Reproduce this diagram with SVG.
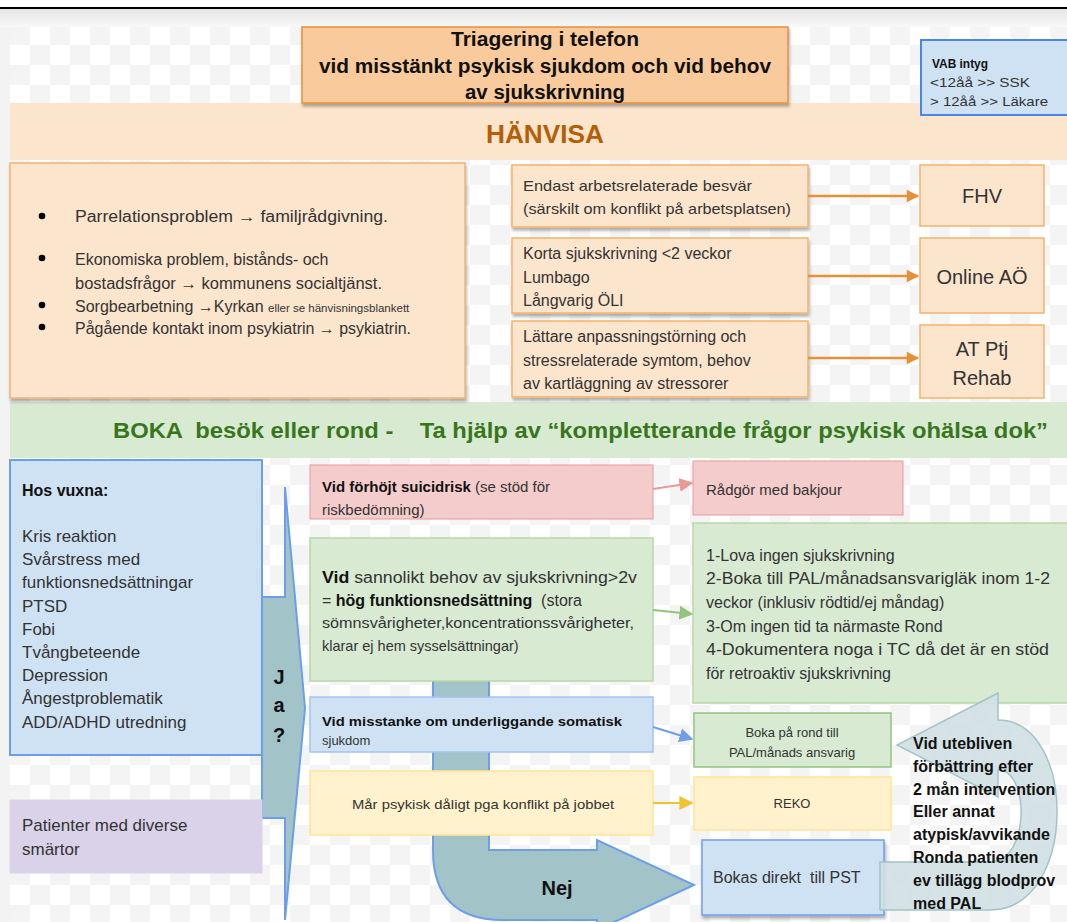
<svg xmlns="http://www.w3.org/2000/svg" width="1067" height="922" viewBox="0 0 1067 922">
<defs>
<pattern id="checker" x="10" y="25" width="40" height="40" patternUnits="userSpaceOnUse">
<rect width="40" height="40" fill="#ffffff"/>
<rect width="20" height="20" fill="#f4f4f4"/>
<rect x="20" y="20" width="20" height="20" fill="#f4f4f4"/>
</pattern>
<linearGradient id="topgrad" x1="0" y1="0" x2="0" y2="1">
<stop offset="0" stop-color="#e6e6e6"/>
<stop offset="1" stop-color="#f8f8f8"/>
</linearGradient>
<filter id="shadow" x="-5%" y="-5%" width="115%" height="125%">
<feDropShadow dx="1" dy="3" stdDeviation="1.5" flood-color="#000" flood-opacity="0.3"/>
</filter>
<marker id="ahOrange" viewBox="0 0 10 10" refX="9" refY="5" markerWidth="5.5" markerHeight="5" orient="auto">
<path d="M0,0 L10,5 L0,10 Z" fill="#e69138"/>
</marker>
<marker id="ahPink" viewBox="0 0 10 10" refX="9" refY="5" markerWidth="7" markerHeight="7" orient="auto">
<path d="M0,0 L10,5 L0,10 Z" fill="#ea9999"/>
</marker>
<marker id="ahGreen" viewBox="0 0 10 10" refX="9" refY="5" markerWidth="7" markerHeight="7" orient="auto">
<path d="M0,0 L10,5 L0,10 Z" fill="#93c47d"/>
</marker>
<marker id="ahBlue" viewBox="0 0 10 10" refX="9" refY="5" markerWidth="7" markerHeight="7" orient="auto">
<path d="M0,0 L10,5 L0,10 Z" fill="#6d9eeb"/>
</marker>
<marker id="ahYellow" viewBox="0 0 10 10" refX="9" refY="5" markerWidth="7" markerHeight="7" orient="auto">
<path d="M0,0 L10,5 L0,10 Z" fill="#f1c232"/>
</marker>
</defs>
<style>
text { font-family: "Liberation Sans", Arial, sans-serif; fill: #333333; }
.b { font-weight: bold; }
.blk { fill: #111111; }
.orange { fill: #fce5cd; stroke: #f6b26b; stroke-width: 1.5; }
.blue { fill: #cfe2f3; stroke: #6d9eeb; stroke-width: 1.5; }
.red { fill: #f4cccc; stroke: #ea9999; stroke-width: 1; }
.green { fill: #d9ead3; stroke: #b6d7a8; stroke-width: 1.5; }
.green2 { fill: #d9ead3; stroke: #93c47d; stroke-width: 1.5; }
.yellow { fill: #fff2cc; stroke: #ffe599; stroke-width: 1.5; }
.purple { fill: #d9d2e9; stroke: #d9d2e9; stroke-width: 1; }
.conn { fill: none; }
.teal { fill: #a2c4c9; stroke: #6d9eeb; stroke-width: 2; }
.t16 { font-size: 16px; }
.t15 { font-size: 15px; }
.t13 { font-size: 13px; }
.t17 { font-size: 17px; }
</style>

<!-- background -->
<rect x="0" y="0" width="1067" height="922" fill="#ffffff"/>
<rect x="0" y="7" width="1067" height="2" fill="#000000"/>
<rect x="0" y="9" width="1067" height="18" fill="url(#topgrad)"/>
<rect x="0" y="27" width="10" height="895" fill="#f3f3f3"/>
<rect x="10" y="27" width="1057" height="895" fill="url(#checker)"/>

<!-- bands -->
<g id="band-hanvisa">
<rect x="10" y="103" width="1057" height="57" fill="#fce5cd"/>
<text x="545" y="143" text-anchor="middle" class="b" style="font-size:26px;fill:#b45f06" textLength="118" lengthAdjust="spacingAndGlyphs">HÄNVISA</text>
</g>
<g id="band-boka">
<rect x="10" y="402" width="1057" height="56" fill="#d9ead3"/>
<text x="113" y="438" class="b" style="font-size:22px;fill:#38761d" textLength="935" lengthAdjust="spacingAndGlyphs" xml:space="preserve">BOKA  besök eller rond -    Ta hjälp av “kompletterande frågor psykisk ohälsa dok”</text>
</g>

<!-- title -->
<g id="title">
<rect x="302" y="27" width="486" height="76" fill="#f9cb9c" stroke="#e69138" stroke-width="1.5" filter="url(#shadow)"/>
<text x="545" y="46" text-anchor="middle" class="b blk" style="font-size:20px" textLength="188" lengthAdjust="spacingAndGlyphs">Triagering i telefon</text>
<text x="545" y="73" text-anchor="middle" class="b blk" style="font-size:20px" textLength="452" lengthAdjust="spacingAndGlyphs">vid misstänkt psykisk sjukdom och vid behov</text>
<text x="545" y="99" text-anchor="middle" class="b blk" style="font-size:20px" textLength="160" lengthAdjust="spacingAndGlyphs">av sjukskrivning</text>
</g>

<!-- VAB -->
<g id="vab">
<rect x="921" y="40" width="150" height="75" fill="#cfe2f3" stroke="#4a86e8" stroke-width="2"/>
<text x="932" y="68" class="b blk" style="font-size:13px" textLength="56" lengthAdjust="spacingAndGlyphs">VAB intyg</text>
<text x="930" y="87" style="font-size:13px" textLength="100" lengthAdjust="spacingAndGlyphs">&lt;12åå &gt;&gt; SSK</text>
<text x="930" y="106" style="font-size:13px" textLength="118" lengthAdjust="spacingAndGlyphs">&gt; 12åå &gt;&gt; Läkare</text>
</g>

<!-- left hanvisa list -->
<g id="hanvisa-list">
<rect x="10" y="163" width="455" height="235" class="orange" filter="url(#shadow)"/>
<circle cx="42" cy="216" r="3.3" fill="#000"/>
<circle cx="42" cy="258" r="3.3" fill="#000"/>
<circle cx="42" cy="305" r="3.3" fill="#000"/>
<circle cx="42" cy="327" r="3.3" fill="#000"/>
<text x="75" y="222" class="t16" textLength="313" lengthAdjust="spacingAndGlyphs">Parrelationsproblem → familjrådgivning.</text>
<text x="75" y="265" class="t16">Ekonomiska problem, bistånds- och</text>
<text x="75" y="289" class="t16" textLength="307" lengthAdjust="spacingAndGlyphs">bostadsfrågor → kommunens socialtjänst.</text>
<text x="75" y="312" class="t16">Sorgbearbetning →Kyrkan <tspan style="font-size:11.5px">eller se hänvisningsblankett</tspan></text>
<text x="75" y="334" class="t16" textLength="336" lengthAdjust="spacingAndGlyphs">Pågående kontakt inom psykiatrin → psykiatrin.</text>
</g>

<!-- middle hanvisa boxes -->
<g id="box-arbets">
<rect x="512" y="165" width="296" height="62" class="orange" filter="url(#shadow)"/>
<text x="523" y="191" class="t15" textLength="229" lengthAdjust="spacingAndGlyphs">Endast arbetsrelaterade besvär</text>
<text x="523" y="214" class="t15" textLength="268" lengthAdjust="spacingAndGlyphs">(särskilt om konflikt på arbetsplatsen)</text>
</g>
<g id="box-korta">
<rect x="512" y="238" width="296" height="75" class="orange" filter="url(#shadow)"/>
<text x="523" y="259" class="t16">Korta sjukskrivning &lt;2 veckor</text>
<text x="523" y="283" class="t16">Lumbago</text>
<text x="523" y="306" class="t16">Långvarig ÖLI</text>
</g>
<g id="box-lattare">
<rect x="512" y="321" width="296" height="76" class="orange" filter="url(#shadow)"/>
<text x="523" y="342" class="t16">Lättare anpassningstörning och</text>
<text x="523" y="366" class="t16">stressrelaterade symtom, behov</text>
<text x="523" y="389" class="t16">av kartläggning av stressorer</text>
</g>

<!-- right hanvisa targets -->
<g id="box-fhv">
<rect x="920" y="165" width="124" height="61" class="orange"/>
<text x="982" y="203" text-anchor="middle" style="font-size:20px">FHV</text>
</g>
<g id="box-online">
<rect x="920" y="238" width="124" height="75" class="orange"/>
<text x="982" y="284" text-anchor="middle" style="font-size:20px">Online AÖ</text>
</g>
<g id="box-atptj">
<rect x="920" y="325" width="124" height="73" class="orange"/>
<text x="982" y="356" text-anchor="middle" style="font-size:20px">AT Ptj</text>
<text x="982" y="385" text-anchor="middle" style="font-size:20px">Rehab</text>
</g>

<!-- Ja arrow -->
<g id="arrow-ja">
<path d="M262,597 L285,597 L285,487 L305,708 L285,920 L285,818 L262,818 Z" class="teal"/>
<text x="279" y="684" text-anchor="middle" class="b blk" style="font-size:20px">J</text>
<text x="279" y="712" text-anchor="middle" class="b blk" style="font-size:20px">a</text>
<text x="279" y="742" text-anchor="middle" class="b blk" style="font-size:20px">?</text>
</g>

<!-- Nej arrow -->
<g id="arrow-nej">
<path d="M433,660 L489,660 L489,850 L597,850 L597,840 L694,885 L597,930 L597,920 L503,920 Q433,920 433,850 Z" class="teal"/>
<text x="557" y="895" text-anchor="middle" class="b blk" style="font-size:20px">Nej</text>
</g>

<!-- left BOKA boxes -->
<g id="box-vuxna">
<rect x="10" y="460" width="252" height="295" fill="#cfe2f3" stroke="#6d9eeb" stroke-width="2"/>
<text x="22" y="496" class="b blk t16">Hos vuxna:</text>
<text x="22" y="542" class="t17">Kris reaktion</text>
<text x="22" y="565" class="t17">Svårstress med</text>
<text x="22" y="588" class="t17">funktionsnedsättningar</text>
<text x="22" y="612" class="t17">PTSD</text>
<text x="22" y="635" class="t17">Fobi</text>
<text x="22" y="658" class="t17">Tvångbeteende</text>
<text x="22" y="681" class="t17">Depression</text>
<text x="22" y="704" class="t17">Ångestproblematik</text>
<text x="22" y="728" class="t17">ADD/ADHD utredning</text>
</g>
<g id="box-smartor">
<rect x="10" y="800" width="252" height="73" class="purple"/>
<text x="22" y="831" class="t17">Patienter med diverse</text>
<text x="22" y="855" class="t17">smärtor</text>
</g>

<!-- middle BOKA boxes -->
<g id="box-suicid">
<rect x="310" y="465" width="343" height="54" class="red"/>
<text x="322" y="492" class="t15"><tspan class="b blk">Vid förhöjt suicidrisk</tspan> (se stöd för</text>
<text x="322" y="515" class="t15">riskbedömning)</text>
</g>
<g id="box-sjukskrivning">
<rect x="310" y="538" width="343" height="143" class="green"/>
<text x="322" y="583" class="t16" textLength="315" lengthAdjust="spacingAndGlyphs"><tspan class="b blk">Vid</tspan> sannolikt behov av sjukskrivning&gt;2v</text>
<text x="322" y="606" class="t16" xml:space="preserve">= <tspan class="b blk">hög funktionsnedsättning</tspan>  (stora</text>
<text x="322" y="628" style="font-size:14.5px" textLength="312" lengthAdjust="spacingAndGlyphs">sömnsvårigheter,koncentrationssvårigheter,</text>
<text x="322" y="651" style="font-size:14.5px">klarar ej hem sysselsättningar)</text>
</g>
<g id="box-somatisk">
<rect x="310" y="697" width="343" height="55" fill="#cfe2f3" stroke="#a4c2f4" stroke-width="1.5"/>
<text x="322" y="726" class="b blk t13" textLength="300" lengthAdjust="spacingAndGlyphs">Vid misstanke om underliggande somatisk</text>
<text x="322" y="745" class="t13">sjukdom</text>
</g>
<g id="box-konflikt">
<rect x="310" y="771" width="343" height="64" class="yellow"/>
<text x="483" y="809" text-anchor="middle" style="font-size:13.5px" textLength="262" lengthAdjust="spacingAndGlyphs">Mår psykisk dåligt pga konflikt på jobbet</text>
</g>

<!-- right BOKA boxes -->
<g id="box-bakjour">
<rect x="693" y="461" width="210" height="54" class="red"/>
<text x="706" y="495" class="t15">Rådgör med bakjour</text>
</g>
<g id="box-atgarder">
<rect x="693" y="523" width="380" height="180" class="green"/>
<text x="706" y="561" class="t16">1-Lova ingen sjukskrivning</text>
<text x="706" y="584" class="t16" textLength="344" lengthAdjust="spacingAndGlyphs">2-Boka till PAL/månadsansvarigläk inom 1-2</text>
<text x="706" y="608" class="t16">veckor (inklusiv rödtid/ej måndag)</text>
<text x="706" y="632" class="t16">3-Om ingen tid ta närmaste Rond</text>
<text x="706" y="655" class="t16" textLength="343" lengthAdjust="spacingAndGlyphs">4-Dokumentera noga i TC då det är en stöd</text>
<text x="706" y="679" class="t16">för retroaktiv sjukskrivning</text>
</g>
<g id="box-rond">
<rect x="694" y="713" width="197" height="54" class="green2"/>
<text x="792" y="737" text-anchor="middle" class="t13">Boka på rond till</text>
<text x="792" y="757" text-anchor="middle" class="t13">PAL/månads ansvarig</text>
</g>
<g id="box-reko">
<rect x="694" y="777" width="197" height="53" class="yellow"/>
<text x="792" y="808" text-anchor="middle" class="t13">REKO</text>
</g>
<g id="box-pst">
<rect x="702" y="840" width="182" height="75" class="blue" filter="url(#shadow)"/>
<text x="713" y="883" class="t16" xml:space="preserve">Bokas direkt  till PST</text>
</g>

<!-- U-turn arrow -->
<g id="arrow-uturn">
<path d="M880,862 L990,862 C1030,862 1030,770 998,770 L998,797 L897,745 L998,693 L998,720 C1078,720 1078,910 990,910 L880,910 Z" fill="#d0e0e3" fill-opacity="0.9" stroke="#a2c4c9" stroke-width="1.5"/>
<text x="913" y="749" class="b blk t16">Vid utebliven</text>
<text x="913" y="772" class="b blk t16">förbättring efter</text>
<text x="913" y="795" class="b blk t16">2 mån intervention</text>
<text x="913" y="817" class="b blk t16">Eller annat</text>
<text x="913" y="840" class="b blk t16">atypisk/avvikande</text>
<text x="913" y="863" class="b blk t16">Ronda patienten</text>
<text x="913" y="886" class="b blk t16">ev tillägg blodprov</text>
<text x="913" y="909" class="b blk t16">med PAL</text>
</g>

<!-- connectors -->
<g id="connectors" class="conn">
<line x1="808" y1="196" x2="918" y2="196" stroke="#e69138" stroke-width="2.5" marker-end="url(#ahOrange)"/>
<line x1="808" y1="276" x2="918" y2="276" stroke="#e69138" stroke-width="2.5" marker-end="url(#ahOrange)"/>
<line x1="808" y1="358" x2="918" y2="358" stroke="#e69138" stroke-width="2.5" marker-end="url(#ahOrange)"/>
<line x1="653" y1="489" x2="692" y2="483" stroke="#ea9999" stroke-width="2" marker-end="url(#ahPink)"/>
<line x1="653" y1="610" x2="692" y2="614" stroke="#93c47d" stroke-width="2" marker-end="url(#ahGreen)"/>
<line x1="653" y1="727" x2="692" y2="739" stroke="#6d9eeb" stroke-width="2" marker-end="url(#ahBlue)"/>
<line x1="653" y1="803" x2="692" y2="803" stroke="#f1c232" stroke-width="2" marker-end="url(#ahYellow)"/>
</g>
</svg>
